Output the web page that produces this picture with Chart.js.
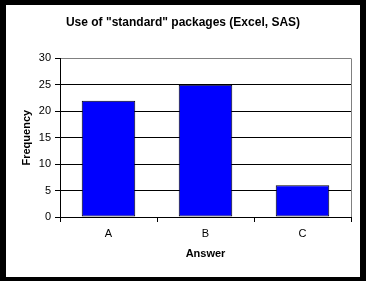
<!DOCTYPE html>
<html>
<head>
<meta charset="utf-8">
<script src="https://cdn.jsdelivr.net/npm/chart.js@4"></script>
<style>
  html, body { margin: 0; padding: 0; background: #000; }
  #frame { position: absolute; left: 6px; top: 5px; width: 354px; height: 272px; background: #fff; }
</style>
</head>
<body>
<div id="frame"><canvas id="chart" width="354" height="272"></canvas></div>
<script>
const answers = ["A", "B", "C"];
const frequencies = [22, 25, 6];
const yTicks = [0, 5, 10, 15, 20, 25, 30];

const fontFamily = "'Liberation Sans', Arial, sans-serif";
const borderGray = "#808080";

new Chart(document.querySelector("#chart"), {
  type: "bar",
  data: {
    labels: answers,
    datasets: [{
      data: frequencies,
      backgroundColor: "#0000ff",
      borderColor: "#000000",
      borderWidth: 1,
      borderSkipped: false,
      categoryPercentage: 0.8,
      barPercentage: 0.69,
    }],
  },
  options: {
    responsive: false,
    animation: false,
    events: [],
    scales: {
      x: {
        afterFit: (scale) => { scale.height = 60; },
        border: { color: "#000000", width: 1 },
        grid: {
          offset: true,
          drawOnChartArea: true,
          tickLength: 5,
          tickColor: "#000000",
          // only the right edge of the plot gets a (gray) line
          color: (ctx) => ctx.type === "scale" ? borderGray : "rgba(0,0,0,0)",
        },
        ticks: {
          color: "#000000",
          padding: 5,
          font: { family: fontFamily, size: 11 },
        },
        title: {
          display: true,
          text: "Answer",
          color: "#000000",
          padding: { top: 0, bottom: 16 },
          font: { family: fontFamily, size: 11, weight: "bold" },
        },
      },
      y: {
        min: yTicks[0],
        max: yTicks[yTicks.length - 1],
        afterFit: (scale) => { scale.width = 54; },
        border: { color: "#000000", width: 1 },
        grid: {
          tickLength: 5,
          tickColor: "#000000",
          color: (ctx) => ctx.tick && ctx.tick.value === yTicks[yTicks.length - 1] ? borderGray : "#000000",
        },
        ticks: {
          stepSize: 5,
          color: "#000000",
          padding: 4,
          font: { family: fontFamily, size: 11 },
        },
        title: {
          display: true,
          text: "Frequency",
          color: "#000000",
          padding: { top: 14, bottom: 0 },
          font: { family: fontFamily, size: 11, weight: "bold" },
        },
      },
      // empty right-hand axis, just keeps a margin so the title stays centred on the canvas
      spacer: {
        position: "right",
        afterFit: (scale) => { scale.width = 9; },
        grid: { display: false },
        ticks: { display: false },
        border: { display: false },
      },
    },
    plugins: {
      legend: { display: false },
      tooltip: { enabled: false },
      title: {
        display: true,
        text: 'Use of "standard" packages (Excel, SAS)',
        color: "#000000",
        padding: { top: 10, bottom: 29 },
        font: { family: fontFamily, size: 12, weight: "bold" },
      },
    },
  },
});
</script>
</body>
</html>
